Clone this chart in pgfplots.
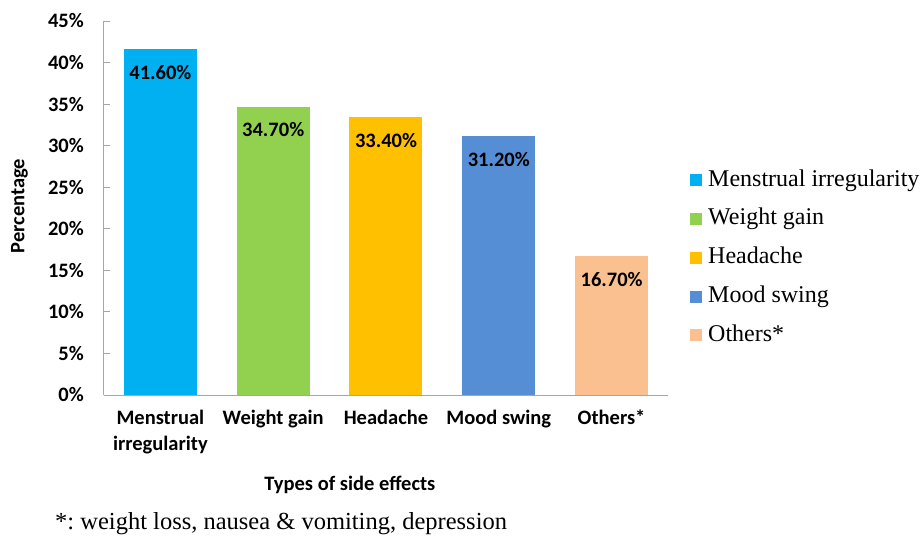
\documentclass[border=0pt]{standalone}
\usepackage{fontspec}
\setmainfont{Liberation Serif}
\newfontfamily\carlito{Carlito}
\usepackage{pgfplots}
\pgfplotsset{compat=1.18}
\definecolor{cMen}{HTML}{00B0F0}
\definecolor{cWei}{HTML}{92D050}
\definecolor{cHea}{HTML}{FFC000}
\definecolor{cMoo}{HTML}{558ED5}
\definecolor{cOth}{HTML}{FAC090}
\definecolor{axgray}{HTML}{A6A6A6}
\newcommand\cb{\carlito\bfseries\fontsize{20.5}{26}\selectfont}
\newcommand\legfont{\fontsize{24}{28}\selectfont}
\newcommand\footfont{\fontsize{24.5}{28}\selectfont}
\frenchspacing
\begin{document}
\begin{tikzpicture}
\begin{axis}[
  at={(0pt,0pt)}, anchor=south west,
  scale only axis, width=564pt, height=374pt,
  xmin=-0.5, xmax=4.5, ymin=0, ymax=45,
  axis lines*=left,
  axis line style={draw=axgray, line width=1pt},
  ybar, bar shift=0pt, bar width=73pt,
  ytick={0,5,...,45},
  yticklabel={\pgfmathprintnumber{\tick}\%},
  /pgf/number format/assume math mode=true,
  tick align=inside,
  major tick length=6pt,
  ytick style={draw=axgray, line width=1pt},
  xtick={0,1,2,3,4},
  xtick style={draw=none},
  xticklabels={{Menstrual\\irregularity},{Weight gain},{Headache},{Mood swing},{Others*}},
  xticklabel style={align=center, font=\cb, inner sep=0pt, anchor=north, yshift=-15pt},
  yticklabel style={font=\cb, inner sep=0pt, anchor=east, xshift=-20pt},
  ylabel={Percentage},
  ylabel style={font=\cb, at={(axis description cs:-0.15,0.505)}, anchor=center},
  xlabel={Types of side effects},
  xlabel style={font=\cb, at={(axis description cs:0.436,-0.24)}, anchor=center},
  nodes near coords={\pgfmathprintnumber[fixed,fixed zerofill,precision=2]{\pgfplotspointmeta}\%},
  every node near coord/.append style={font=\cb, anchor=north, inner sep=0pt, yshift=-16pt, text=black},
  legend image code/.code={\fill[#1, draw=none] (0pt,-6pt) rectangle (12pt,6pt);},
  legend cell align=left,
  legend style={at={(axis description cs:1.039,0.367)}, anchor=west, draw=none, fill=none,
    font=\legfont, inner sep=0pt, row sep=16.8pt,
    nodes={inner sep=0pt, text height=17pt, text depth=5pt},
    /tikz/every odd column/.append style={column sep=6pt}},
  clip=false,
]
\addplot[fill=cMen, draw=none] coordinates {(0,41.6)};
\addlegendentry{Menstrual irregularity}
\addplot[fill=cWei, draw=none] coordinates {(1,34.7)};
\addlegendentry{Weight gain}
\addplot[fill=cHea, draw=none] coordinates {(2,33.4)};
\addlegendentry{Headache}
\addplot[fill=cMoo, draw=none] coordinates {(3,31.2)};
\addlegendentry{Mood swing}
\addplot[fill=cOth, draw=none] coordinates {(4,16.7)};
\addlegendentry{Others*}
\end{axis}
\node[anchor=base west, font=\footfont, inner sep=0pt] at (-49pt,-134pt) {*: weight loss, nausea \& vomiting, depression};
\pgfresetboundingbox
\path[use as bounding box] (-104pt,-141pt) rectangle (818pt,395pt);
\end{tikzpicture}
\end{document}
